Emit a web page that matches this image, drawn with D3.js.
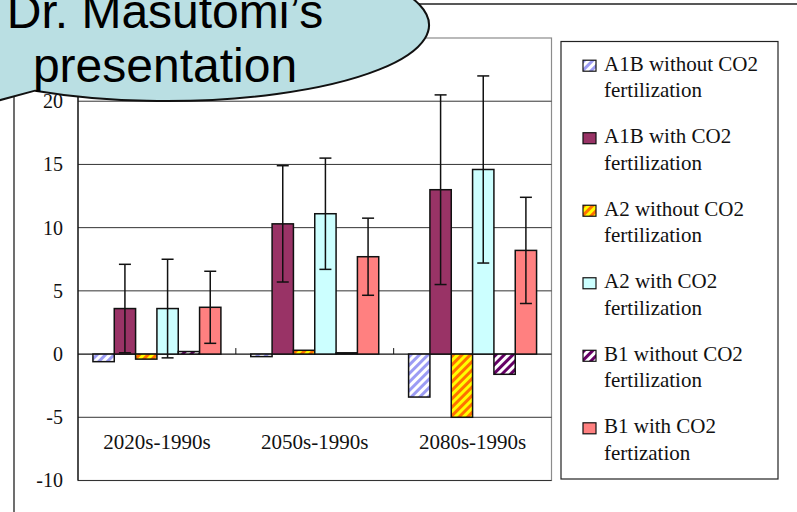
<!DOCTYPE html>
<html>
<head>
<meta charset="utf-8">
<script src="https://cdn.jsdelivr.net/npm/d3@7"></script>
<style>
  body { margin: 0; background: #fff; }
  svg { display: block; }
</style>
</head>
<body>
<script>
// chart data
var categories = ["2020s-1990s", "2050s-1990s", "2080s-1990s"];
var seriesKeys = ["a1bWithout", "a1bWith", "a2Without", "a2With", "b1Without", "b1With"];
var legendLine1 = ["A1B without CO2", "A1B with CO2", "A2 without CO2", "A2 with CO2", "B1 without CO2", "B1 with CO2"];
var legendLine2 = ["fertilization", "fertilization", "fertilization", "fertilization", "fertilization", "fertization"];

var a1bWithout = [-0.6, -0.2, -3.4];
var a1bWith    = [3.6, 10.3, 13.0];
var a2Without  = [-0.4, 0.3, -5.0];
var a2With     = [3.6, 11.1, 14.6];
var b1Without  = [0.2, 0.1, -1.6];
var b1With     = [3.7, 7.7, 8.2];

// error bars (+/-), only the "with CO2" series have them
var a1bWithErr = [3.5, 4.6, 7.5];
var a2WithErr  = [3.9, 4.4, 7.4];
var b1WithErr  = [2.85, 3.05, 4.2];

var yGrid = [-10, -5, 0, 5, 10, 15, 20];
var yLabels = [-10, -5, 0, 5, 10, 15, 20]; // "25" sits under the callout
var calloutText = ["Dr. Masutomi\u2019s", "presentation"];

var seriesValues = [a1bWithout, a1bWith, a2Without, a2With, b1Without, b1With];
var seriesErr = [null, a1bWithErr, null, a2WithErr, null, b1WithErr];

var W = 797, H = 512;
var serif = "'Liberation Serif','Times New Roman',serif";

var svg = d3.select("body").append("svg").attr("width", W).attr("height", H);
var defs = svg.append("defs");

// hatch patterns for the "without" series
function stripePattern(id, bg, fg){
   var p = defs.append("pattern")
      .attr("id", id)
      .attr("patternUnits", "userSpaceOnUse")
      .attr("width", 6).attr("height", 6)
      .attr("patternTransform", "rotate(45)");
   p.append("rect").attr("width", 6).attr("height", 6).attr("fill", bg);
   p.append("rect").attr("width", 3).attr("height", 6).attr("fill", fg);
}
stripePattern("hatchBlue", "#ffffff", "#9c9cf4");
stripePattern("hatchOrange", "#ffff00", "#ff7000");
stripePattern("hatchPurple", "#ffffff", "#660066");

var fills = ["url(#hatchBlue)", "#993366", "url(#hatchOrange)", "#ccffff", "url(#hatchPurple)", "#ff8080"];

// slide frame
svg.append("path")
   .attr("d", "M14,512 L14,4 L797,4")
   .attr("fill", "none")
   .attr("stroke", "#222")
   .attr("stroke-width", 1.3);

// plot area
var plot = {left: 78, right: 551.5, top: 38, bottom: 480.5};

var x0 = d3.scaleBand().domain(categories).range([plot.left, plot.right]).padding(0);
var x1 = d3.scaleBand().domain(seriesKeys).range([0, x0.bandwidth()]).paddingInner(0).paddingOuter(0.7);
var y = d3.scaleLinear().domain([-10, 25]).range([plot.bottom, plot.top]);

svg.append("rect")
   .attr("x", plot.left).attr("y", plot.top)
   .attr("width", plot.right - plot.left).attr("height", plot.bottom - plot.top)
   .attr("fill", "#fff")
   .attr("stroke", "#8c8c8c")
   .attr("stroke-width", 1.2);

// gridlines
svg.append("g").selectAll("line.grid").data(yGrid).enter().append("line")
   .attr("class", "grid")
   .attr("x1", plot.left).attr("x2", plot.right)
   .attr("y1", function(d){ return y(d); })
   .attr("y2", function(d){ return y(d); })
   .attr("stroke", function(d){ return d === 0 ? "#111" : "#333"; })
   .attr("stroke-width", function(d){ return d === 0 ? 1.2 : 1; });

// y axis labels
var yAxis = svg.append("g")
   .attr("transform", "translate(" + plot.left + ",0)")
   .call(d3.axisLeft(y).tickValues(yLabels).tickSize(0).tickPadding(15).tickFormat(function(d){ return String(d); }));
yAxis.select(".domain").remove();
yAxis.selectAll("text")
   .attr("font-family", serif)
   .attr("font-size", "20px")
   .attr("fill", "#111");

// y axis line
svg.append("line")
   .attr("x1", plot.left).attr("x2", plot.left)
   .attr("y1", plot.top).attr("y2", plot.bottom)
   .attr("stroke", "#111").attr("stroke-width", 1.3);

// category tick marks on the zero line
svg.append("g").selectAll("line.ctick").data(categories.slice(1)).enter().append("line")
   .attr("class", "ctick")
   .attr("x1", function(d){ return x0(d); })
   .attr("x2", function(d){ return x0(d); })
   .attr("y1", y(0)).attr("y2", y(0) - 6)
   .attr("stroke", "#111").attr("stroke-width", 1);

// bars
seriesKeys.forEach(function(key, si){
   var vals = seriesValues[si];
   var g = svg.append("g").attr("class", "series-" + key);
   g.selectAll("rect").data(vals).enter().append("rect")
      .attr("x", function(d, i){ return x0(categories[i]) + x1(key); })
      .attr("y", function(d){ return y(Math.max(0, d)); })
      .attr("width", x1.bandwidth())
      .attr("height", function(d){ return Math.abs(y(d) - y(0)); })
      .attr("fill", fills[si])
      .attr("stroke", "#111")
      .attr("stroke-width", 1.5);
});

// error bars
seriesKeys.forEach(function(key, si){
   var errs = seriesErr[si];
   if(!errs) return;
   var vals = seriesValues[si];
   var g = svg.append("g").attr("class", "err-" + key)
      .attr("stroke", "#111").attr("stroke-width", 1.5);
   vals.forEach(function(v, i){
      var cx = x0(categories[i]) + x1(key) + x1.bandwidth() / 2;
      var hi = y(v + errs[i]), lo = y(v - errs[i]);
      g.append("line").attr("x1", cx).attr("x2", cx).attr("y1", hi).attr("y2", lo);
      g.append("line").attr("x1", cx - 6).attr("x2", cx + 6).attr("y1", hi).attr("y2", hi);
      g.append("line").attr("x1", cx - 6).attr("x2", cx + 6).attr("y1", lo).attr("y2", lo);
   });
});

// category labels (low position)
svg.append("g").selectAll("text.cat").data(categories).enter().append("text")
   .attr("class", "cat")
   .attr("x", function(d){ return x0(d) + x0.bandwidth() / 2; })
   .attr("y", 444)
   .attr("text-anchor", "middle")
   .attr("dominant-baseline", "middle")
   .attr("font-family", serif)
   .attr("font-size", "21px")
   .attr("fill", "#111")
   .text(function(d){ return d; });

// legend
var legend = svg.append("g");
legend.append("rect")
   .attr("x", 561).attr("y", 41.5)
   .attr("width", 217).attr("height", 437.5)
   .attr("fill", "#fff")
   .attr("stroke", "#222")
   .attr("stroke-width", 1.2);
var ly = d3.scaleLinear().domain([0, 5]).range([65.7, 428.3]);
var items = legend.selectAll("g.item").data(seriesKeys).enter().append("g")
   .attr("class", "item")
   .attr("transform", function(d, i){ return "translate(0," + ly(i) + ")"; });
items.append("rect")
   .attr("x", 583).attr("y", -5.5)
   .attr("width", 13).attr("height", 11)
   .attr("fill", function(d, i){ return fills[i]; })
   .attr("stroke", "#111")
   .attr("stroke-width", 1.2);
items.append("text")
   .attr("x", 604).attr("y", 0)
   .attr("dominant-baseline", "middle")
   .attr("font-family", serif).attr("font-size", "21px").attr("fill", "#111")
   .text(function(d, i){ return legendLine1[i]; });
items.append("text")
   .attr("x", 604).attr("y", 26.6)
   .attr("dominant-baseline", "middle")
   .attr("font-family", serif).attr("font-size", "21px").attr("fill", "#111")
   .text(function(d, i){ return legendLine2[i]; });

// callout bubble (ellipse with a tail pointing down-left)
var ell = {cx: 167, cy: 25, rx: 262, ry: 76};
function ellY(px, lower){
   var t = (px - ell.cx) / ell.rx;
   var dy = ell.ry * Math.sqrt(1 - t * t);
   return lower ? ell.cy + dy : ell.cy - dy;
}
var pA = [35, ellY(35, true)];
var pB = [-60, ellY(-60, true)];
var tip = [-110, 130];
svg.append("path")
   .attr("d", "M" + pA[0] + "," + pA[1] +
      " A" + ell.rx + "," + ell.ry + " 0 1 0 " + pB[0] + "," + pB[1] +
      " L" + tip[0] + "," + tip[1] + " Z")
   .attr("fill", "#badfe3")
   .attr("stroke", "#111")
   .attr("stroke-width", 2);

svg.append("g").selectAll("text.callout").data(calloutText).enter().append("text")
   .attr("class", "callout")
   .attr("x", 165)
   .attr("y", function(d, i){ return 28 + i * 54; })
   .attr("text-anchor", "middle")
   .attr("font-family", "'Liberation Sans',Arial,sans-serif")
   .attr("font-size", "48px")
   .attr("fill", "#000")
   .text(function(d){ return d; });
</script>
</body>
</html>
